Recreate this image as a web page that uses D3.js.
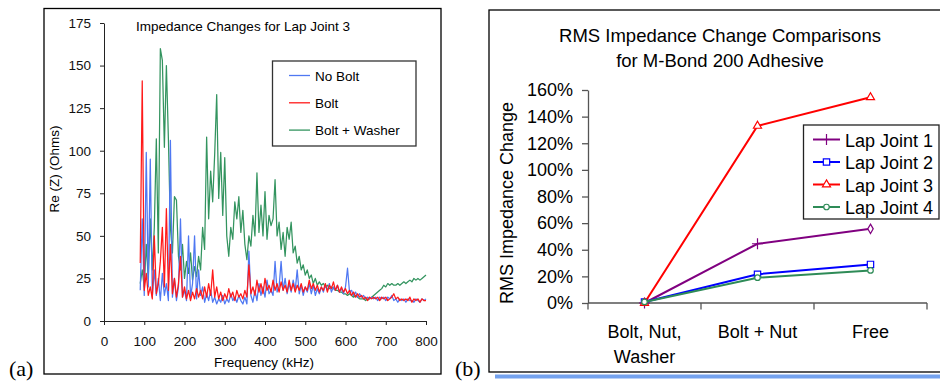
<!DOCTYPE html>
<html>
<head>
<meta charset="utf-8">
<script src="https://cdn.jsdelivr.net/npm/d3@7"></script>
<style>
  body { margin: 0; background: #fff; }
  svg { display: block; font-family: "Liberation Sans", Arial, sans-serif; }
</style>
</head>
<body>
<svg id="chart" width="940" height="381"></svg>
<script>
// (a) impedance spectra, sampled every 5 kHz from 90 to 800 kHz
const freqs = d3.range(90, 801, 5);
const noBolt = [18,60,15,99,20,95,14,30,15,25,
  12,28,15,22,12,106,14,25,12,20,
  60,14,18,12,50,14,22,50,13,30,
  15,20,11,16,12,18,11,14,10,13,
  11,15,10,13,11,16,12,14,11,15,
  12,10,14,10,41,15,11,18,12,22,
  15,20,14,24,16,18,15,35,17,20,
  35,18,25,16,22,17,24,18,30,16,
  21,15,20,17,22,16,21,15,19,16,
  20,17,21,18,22,17,20,18,21,17,
  19,16,20,31,17,18,15,17,14,16,
  14,15,13,14,13,14,13,14,12,14,
  13,14,12,14,13,15,12,13,11,13,
  12,13,11,13,12,12,11,13,12,11,
  13,12,13];
const bolt = [34,141,18,28,15,20,13,50,16,22,
  35,55,20,66,18,45,16,25,14,22,
  38,14,20,13,18,12,17,13,19,14,
  18,13,20,14,22,15,30,14,20,13,
  17,12,16,13,19,14,17,12,18,14,
  16,13,18,14,33,16,20,15,24,17,
  22,16,25,18,21,17,24,18,22,17,
  23,18,21,17,24,18,22,17,21,18,
  22,17,20,18,24,19,22,18,21,17,
  20,18,22,17,21,19,23,18,21,17,
  20,17,19,16,18,15,17,14,16,14,
  15,13,14,12,14,13,14,13,14,12,
  14,13,14,12,13,14,16,13,14,12,
  13,12,13,12,14,11,13,12,13,11,
  13,12,12];
const boltWasher = [22,30,20,45,25,60,30,55,107,40,
  160,153,102,150,107,55,40,73,71,38,
  30,45,25,35,28,40,24,32,26,38,
  30,55,42,108,60,88,70,98,133,72,
  99,62,96,50,38,55,48,70,60,73,
  52,65,45,36,50,44,62,50,87,52,
  68,50,76,48,62,56,60,83,50,58,
  42,52,38,55,48,58,40,44,34,38,
  30,33,27,30,25,27,22,25,21,23,
  21,22,20,21,19,20,19,18,18,17,
  17,16,16,15,16,15,14,15,14,13,
  13,13,12,13,13,14,15,16,17,18,
  19,21,20,22,21,22,21,21,22,21,
  22,23,22,23,24,23,25,24,25,24,
  25,26,27];
const xTicksA = [0, 100, 200, 300, 400, 500, 600, 700, 800];
const yTicksA = [0, 25, 50, 75, 100, 125, 150, 175];

// (b) RMS impedance change per boundary condition
const categories = ["Bolt, Nut, Washer", "Bolt + Nut", "Free"];
const lapJoint1 = [0, 0.445, 0.557];
const lapJoint2 = [0.008, 0.216, 0.29];
const lapJoint3 = [0, 1.33, 1.545];
const lapJoint4 = [0.008, 0.19, 0.245];
const yTicksB = [0, 0.2, 0.4, 0.6, 0.8, 1.0, 1.2, 1.4, 1.6];

const svg = d3.select("#chart");

// ---------- panel (a) ----------
svg.append("rect").attr("x", 44).attr("y", 8.5).attr("width", 397).attr("height", 365.5)
  .attr("fill", "none").attr("stroke", "#000").attr("stroke-width", 1.3);
svg.append("text").attr("x", 9).attr("y", 376)
  .style("font-family", "'Liberation Serif', 'Times New Roman', serif")
  .style("font-size", "22px").text("(a)");

const xA = d3.scaleLinear().domain([0, 800]).range([104, 426]);
const yA = d3.scaleLinear().domain([0, 175]).range([321, 23]);

const axA = svg.append("g").attr("transform", "translate(0,321)")
  .call(d3.axisBottom(xA).tickValues(xTicksA).tickSize(4).tickSizeOuter(0).tickPadding(11));
const ayA = svg.append("g").attr("transform", "translate(104,0)")
  .call(d3.axisLeft(yA).tickValues(yTicksA).tickSize(4).tickSizeOuter(0).tickPadding(9));
[axA, ayA].forEach(g => {
  g.selectAll("text").style("font-size", "13.5px").attr("fill", "#111");
  g.selectAll("line, path").attr("stroke", "#222");
});

svg.append("text").attr("x", 243).attr("y", 31).attr("text-anchor", "middle")
  .style("font-size", "13.5px").text("Impedance Changes for Lap Joint 3");
svg.append("text").attr("x", 264).attr("y", 367).attr("text-anchor", "middle")
  .style("font-size", "13.5px").text("Frequency (kHz)");
svg.append("text").attr("transform", "translate(59,169) rotate(-90)").attr("text-anchor", "middle")
  .style("font-size", "13.5px").text("Re (Z) (Ohms)");

const seriesA = [
  { name: "No Bolt", values: noBolt, color: "#4f78f2" },
  { name: "Bolt", values: bolt, color: "#ff1a1a" },
  { name: "Bolt + Washer", values: boltWasher, color: "#33945f" }
];

const lineA = d3.line().x((d, i) => xA(freqs[i])).y(d => yA(d));
// green underneath, then blue, red on top
[seriesA[2], seriesA[0], seriesA[1]].forEach(s => {
  svg.append("path").datum(s.values).attr("d", lineA)
    .attr("fill", "none").attr("stroke", s.color).attr("stroke-width", 1.25)
    .attr("stroke-linejoin", "round");
});

const legA = svg.append("g");
legA.append("rect").attr("x", 272.5).attr("y", 61).attr("width", 143.5).attr("height", 85)
  .attr("fill", "#fff").attr("stroke", "#333").attr("stroke-width", 1.3);
seriesA.forEach((s, i) => {
  const cy = 75.5 + i * 27.3;
  legA.append("line").attr("x1", 289).attr("x2", 310).attr("y1", cy).attr("y2", cy)
    .attr("stroke", s.color).attr("stroke-width", 1.3);
  legA.append("text").attr("x", 315).attr("y", cy + 5).style("font-size", "13.5px").text(s.name);
});

// ---------- panel (b) ----------
svg.append("rect").attr("x", 489).attr("y", 10).attr("width", 470).attr("height", 362)
  .attr("fill", "none").attr("stroke", "#000").attr("stroke-width", 1.3);
svg.append("rect").attr("x", 495).attr("y", 374.5).attr("width", 445).attr("height", 4)
  .attr("fill", "#74a2ee");
svg.append("text").attr("x", 455).attr("y", 376)
  .style("font-family", "'Liberation Serif', 'Times New Roman', serif")
  .style("font-size", "22px").text("(b)");

const xB = d3.scaleBand().domain(categories).range([588, 927]);
const yB = d3.scaleLinear().domain([0, 1.6]).range([303, 90]);

svg.append("text").attr("x", 720).attr("y", 41.5).attr("text-anchor", "middle")
  .style("font-size", "18.5px").text("RMS Impedance Change Comparisons");
svg.append("text").attr("x", 720).attr("y", 66.5).attr("text-anchor", "middle")
  .style("font-size", "18.5px").text("for M-Bond 200 Adhesive");
svg.append("text").attr("transform", "translate(513,203) rotate(-90)").attr("text-anchor", "middle")
  .style("font-size", "18px").text("RMS Impedance Change");

const ayB = svg.append("g").attr("transform", "translate(588,0)")
  .call(d3.axisLeft(yB).tickValues(yTicksB).tickFormat(d3.format(".0%")).tickSize(6).tickSizeOuter(0).tickPadding(9));
ayB.selectAll("text").style("font-size", "18px").attr("fill", "#000");
ayB.selectAll("line, path").attr("stroke", "#555").attr("stroke-width", 1.3);

// x axis: line along 0%, ticks at category boundaries, labels centred
const axB = svg.append("g");
axB.append("line").attr("x1", 588).attr("x2", 927).attr("y1", yB(0)).attr("y2", yB(0))
  .attr("stroke", "#555").attr("stroke-width", 1.3);
categories.map(c => xB(c)).concat([xB.range()[1]]).forEach(x => {
  axB.append("line").attr("x1", x).attr("x2", x).attr("y1", yB(0)).attr("y2", yB(0) + 6.5)
    .attr("stroke", "#555").attr("stroke-width", 1.3);
});
categories.forEach(c => {
  const t = axB.append("text").attr("x", xB(c) + xB.bandwidth() / 2).attr("y", 338)
    .attr("text-anchor", "middle").style("font-size", "18px");
  // wrap long labels into lines that fit the band
  const words = c.split(" ");
  let line = [];
  let tspan = t.append("tspan").attr("x", xB(c) + xB.bandwidth() / 2).attr("dy", 0);
  words.forEach(w => {
    line.push(w);
    tspan.text(line.join(" "));
    if (tspan.node().getComputedTextLength() > xB.bandwidth() - 10 && line.length > 1) {
      line.pop();
      tspan.text(line.join(" "));
      line = [w];
      tspan = t.append("tspan").attr("x", xB(c) + xB.bandwidth() / 2).attr("dy", 24.5).text(w);
    }
  });
});

const seriesB = [
  { name: "Lap Joint 1", values: lapJoint1, color: "#800080", marker: "plus" },
  { name: "Lap Joint 2", values: lapJoint2, color: "#0000ff", marker: "square" },
  { name: "Lap Joint 3", values: lapJoint3, color: "#ff0000", marker: "triangle" },
  { name: "Lap Joint 4", values: lapJoint4, color: "#2e8b57", marker: "circle" }
];

const symbolOf = {
  plus: d3.symbol().type(d3.symbolPlus || d3.symbolCross).size(42),
  square: d3.symbol().type(d3.symbolSquare).size(40),
  triangle: d3.symbol().type(d3.symbolTriangle).size(28),
  circle: d3.symbol().type(d3.symbolCircle).size(24),
  diamond: d3.symbol().type(d3.symbolDiamond).size(26)
};

const lineB = d3.line().x((d, i) => xB(categories[i]) + xB.bandwidth() / 2).y(d => yB(d));

seriesB.forEach(s => {
  svg.append("path").datum(s.values).attr("d", lineB)
    .attr("fill", "none").attr("stroke", s.color).attr("stroke-width", 2);
  svg.selectAll(null).data(s.values).enter().append("path")
    .attr("transform", (d, i) => `translate(${xB(categories[i]) + xB.bandwidth() / 2},${yB(d)})`)
    // Lap Joint 1 shows a diamond at its last point in the original
    .attr("d", (d, i) => symbolOf[s.marker === "plus" && i === 2 ? "diamond" : s.marker]())
    .attr("fill", "#fff").attr("stroke", s.color).attr("stroke-width", 1.2);
});

const legB = svg.append("g");
legB.append("rect").attr("x", 803.5).attr("y", 125).attr("width", 135.5).attr("height", 94)
  .attr("fill", "#fff").attr("stroke", "#222").attr("stroke-width", 1.3);
seriesB.forEach((s, i) => {
  const cy = 139.5 + i * 22.5;
  legB.append("line").attr("x1", 813).attr("x2", 840).attr("y1", cy).attr("y2", cy)
    .attr("stroke", s.color).attr("stroke-width", 2);
  legB.append("path").attr("transform", `translate(826.5,${cy})`).attr("d", symbolOf[s.marker]())
    .attr("fill", "#fff").attr("stroke", s.color).attr("stroke-width", 1.2);
  legB.append("text").attr("x", 845).attr("y", cy + 7).style("font-size", "18px").text(s.name);
});
</script>
</body>
</html>
